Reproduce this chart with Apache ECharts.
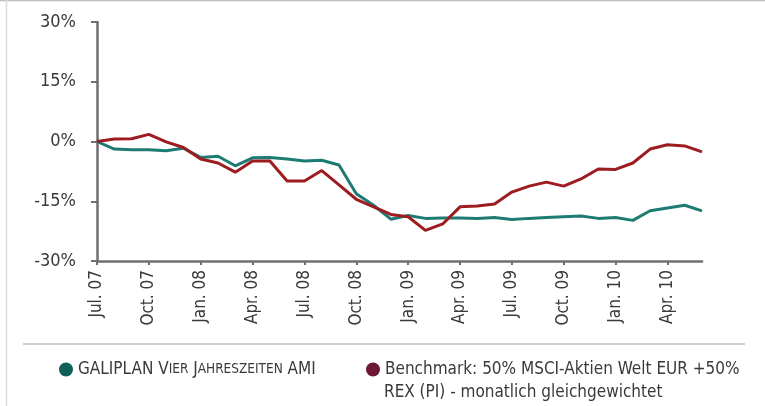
<!DOCTYPE html>
<html>
<head>
<meta charset="utf-8">
<script src="https://cdn.jsdelivr.net/npm/echarts@6/dist/echarts.min.js"></script>
<style>
html,body{margin:0;padding:0;background:#fff;}
#c{width:765px;height:406px;}
</style>
</head>
<body>
<div id="c"></div>
<script>
var months = ['Jul. 07','Aug. 07','Sep. 07','Oct. 07','Nov. 07','Dec. 07',
  'Jan. 08','Feb. 08','Mar. 08','Apr. 08','May. 08','Jun. 08',
  'Jul. 08','Aug. 08','Sep. 08','Oct. 08','Nov. 08','Dec. 08',
  'Jan. 09','Feb. 09','Mar. 09','Apr. 09','May. 09','Jun. 09',
  'Jul. 09','Aug. 09','Sep. 09','Oct. 09','Nov. 09','Dec. 09',
  'Jan. 10','Feb. 10','Mar. 10','Apr. 10','May. 10','Jun. 10'];
var fundValues = [0, -1.9, -2.1, -2.1, -2.3, -1.7, -4.0, -3.7, -6.1, -4.1, -4.0, -4.4,
  -4.9, -4.7, -5.9, -13.1, -16.0, -19.5, -18.6, -19.3, -19.2, -19.2, -19.3, -19.1,
  -19.6, -19.3, -19.1, -18.9, -18.7, -19.3, -19.1, -19.8, -17.4, -16.7, -16.0, -17.4];
var benchValues = [0, 0.6, 0.7, 1.8, -0.1, -1.5, -4.4, -5.4, -7.7, -4.9, -4.9, -9.9,
  -9.9, -7.3, -10.9, -14.5, -16.4, -18.3, -18.9, -22.3, -20.7, -16.4, -16.2, -15.7,
  -12.7, -11.2, -10.2, -11.2, -9.4, -6.9, -7.0, -5.4, -1.9, -0.8, -1.1, -2.6];
var yTicks = [-30, -15, 0, 15, 30];
var fundName = 'GALIPLAN Vier Jahreszeiten AMI';
var benchLine1 = 'Benchmark: 50% MSCI-Aktien Welt EUR +50%';
var benchLine2 = 'REX (PI) - monatlich gleichgewichtet';
var benchName = benchLine1 + ' ' + benchLine2;

var FONT = '"Liberation Sans Narrow", "DejaVu Sans Condensed", "Open Sans", sans-serif';
var chart = echarts.init(document.getElementById('c'), null, {renderer: 'canvas'});
chart.setOption({
  animation: false,
  backgroundColor: '#fff',
  textStyle: {fontFamily: FONT},
  grid: {left: 97, right: 63, top: 22, bottom: 145, containLabel: false},
  xAxis: {
    type: 'category',
    data: months,
    boundaryGap: false,
    axisLine: {onZero: false, lineStyle: {color: '#6f6f72', width: 2.5}},
    axisTick: {show: true, interval: 2, length: 4, lineStyle: {color: '#6f6f72', width: 2}},
    axisLabel: {interval: 2, rotate: 90, margin: 9, fontSize: 17, color: '#3a3a3a', fontFamily: FONT},
    splitLine: {show: false}
  },
  yAxis: {
    type: 'value',
    min: yTicks[0], max: yTicks[yTicks.length - 1], interval: 15,
    axisLine: {show: true, lineStyle: {color: '#6f6f72', width: 2.5}},
    axisTick: {show: true, length: 6, lineStyle: {color: '#6f6f72', width: 2}},
    axisLabel: {margin: 21, fontSize: 18, color: '#3a3a3a', fontFamily: FONT,
      formatter: function (v) { return v + '%'; }},
    splitLine: {show: false}
  },
  legend: [{
    left: 54, top: 356,
    icon: 'circle', itemWidth: 14, itemHeight: 14, itemGap: 9,
    data: [{name: fundName, itemStyle: {color: '#0f6158'}}],
    formatter: function () {
      return 'GALIPLAN V{s|IER} J{s|AHRESZEITEN} AMI';
    },
    textStyle: {fontSize: 17, color: '#3a3a3a', fontFamily: FONT,
      rich: {s: {fontSize: 13.5, color: '#3a3a3a', fontFamily: FONT}}}
  }, {
    left: 361, top: 356,
    icon: 'circle', itemWidth: 14, itemHeight: 14, itemGap: 9,
    data: [{name: benchName, itemStyle: {color: '#6e1734'}}],
    formatter: function () { return benchLine1; },
    textStyle: {fontSize: 17, color: '#3a3a3a', fontFamily: FONT}
  }],
  series: [{
    name: fundName, type: 'line', data: fundValues,
    symbol: 'none', lineStyle: {color: '#1d7b73', width: 3}, itemStyle: {color: '#1d7b73'}
  }, {
    name: benchName, type: 'line', data: benchValues,
    symbol: 'none', lineStyle: {color: '#9c1c20', width: 3}, itemStyle: {color: '#9c1c20'}
  }],
  graphic: [
    {type: 'line', shape: {x1: 0, y1: 0.5, x2: 765, y2: 0.5}, style: {stroke: '#bdbdbd', lineWidth: 1.5}, silent: true},
    {type: 'line', shape: {x1: 6.5, y1: 0, x2: 6.5, y2: 406}, style: {stroke: '#dedede', lineWidth: 1.5}, silent: true},
    {type: 'line', shape: {x1: 23, y1: 344, x2: 745, y2: 344}, style: {stroke: '#cfcfcf', lineWidth: 2}, silent: true},
    {type: 'text', left: 384, top: 384, silent: true,
      style: {text: benchLine2, fontSize: 17, fill: '#3a3a3a', fontFamily: FONT}}
  ]
});
</script>
</body>
</html>
